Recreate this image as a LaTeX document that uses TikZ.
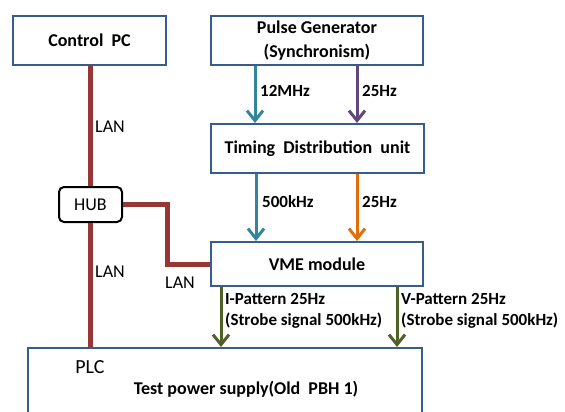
\documentclass[tikz,border=0pt]{standalone}
\usepackage{fontspec}
\setmainfont{Carlito}
\usetikzlibrary{arrows.meta}
\definecolor{boxblue}{RGB}{56,93,138}
\definecolor{lanred}{RGB}{149,55,53}
\definecolor{tealc}{RGB}{49,133,156}
\definecolor{purplec}{RGB}{96,73,122}
\definecolor{orangec}{RGB}{228,108,10}
\definecolor{greenc}{RGB}{79,98,40}
\newcommand{\wsp}{\hspace{0.45em}}
\tikzset{
  blk/.style={draw=boxblue, line width=2pt, fill=white, font=\bfseries\fontsize{18}{24}\selectfont, align=center, inner sep=0pt},
  lan/.style={draw=lanred, line width=5pt},
  sig/.style={line width=3pt, -{Straight Barb[length=10pt,width=16pt,line width=3pt]}},
  lbl/.style={font=\bfseries\fontsize{17}{20}\selectfont, anchor=west, inner sep=0pt},
  lanlbl/.style={font=\fontsize{18}{20}\selectfont, anchor=west, inner sep=0pt},
}
\begin{document}
\begin{tikzpicture}[x=1pt,y=-1pt]
\useasboundingbox (0,0) rectangle (565,412);
\node[blk, minimum width=153pt, minimum height=49pt] (ctrl) at (89.5,40.5) {Control\wsp PC};
\node[blk, minimum width=212pt, minimum height=49pt] (pg) at (317,40.5) {Pulse Generator\\(Synchronism)};
\node[blk, minimum width=213pt, minimum height=49pt] (td) at (317.5,148.5) {Timing\wsp Distribution\wsp unit};
\node[draw=black, line width=2pt, rounded corners=5pt, fill=white, minimum width=63pt, minimum height=35pt, inner sep=0pt, font=\fontsize{18}{20}\selectfont] (hub) at (90.5,204.5) {HUB};
\node[blk, minimum width=212pt, minimum height=44pt] (vme) at (317,264) {VME module};
\node[draw=boxblue, line width=2pt, fill=white, minimum width=394pt, minimum height=80pt, inner sep=0pt] (tps) at (225,388) {};
\node[font=\fontsize{20}{22}\selectfont, inner sep=0pt] (plc) at (90,367) {PLC};
\node[font=\bfseries\fontsize{18}{20}\selectfont, inner sep=0pt] (tpsl) at (246,389) {Test power supply(Old\wsp PBH 1)};

% LAN lines
\draw[lan] (ctrl.south -| hub.north) -- (hub.north);
\draw[lan] (hub.south) -- (hub.south |- tps.north);
\draw[lan] (hub.east) -- ++(44,0) coordinate (bend) |- (vme.west);
\node[lanlbl] (lan1) at (95,127) {LAN};
\node[lanlbl] (lan2) at (95,272) {LAN};
\node[lanlbl] (lan3) at (165,283) {LAN};

% signals
\draw[sig, tealc] ([xshift=-62pt]pg.south) -- ([xshift=-62pt]pg.south |- td.north);
\draw[sig, purplec] ([xshift=40pt]pg.south) -- ([xshift=40pt]pg.south |- td.north);
\node[lbl] (l1) at (260,91) {12MHz};
\node[lbl] (l2) at (362,91) {25Hz};
\draw[sig, tealc] ([xshift=-61.5pt]td.south) -- ([xshift=-61.5pt]td.south |- vme.north);
\draw[sig, orangec] ([xshift=39.5pt]td.south) -- ([xshift=39.5pt]td.south |- vme.north);
\node[lbl] (l3) at (262,202) {500kHz};
\node[lbl] (l4) at (362,202) {25Hz};
\draw[sig, greenc] ([xshift=-96pt]vme.south) -- ([xshift=-96pt]vme.south |- tps.north);
\draw[sig, greenc] ([xshift=80pt]vme.south) -- ([xshift=80pt]vme.south |- tps.north);
\node[lbl, align=left, font=\bfseries\fontsize{17}{21}\selectfont] (l5) at (225,311) {I-Pattern 25Hz\\(Strobe signal 500kHz)};
\node[lbl, align=left, font=\bfseries\fontsize{17}{21}\selectfont] (l6) at (401,311) {V-Pattern 25Hz\\(Strobe signal 500kHz)};
\end{tikzpicture}
\end{document}
